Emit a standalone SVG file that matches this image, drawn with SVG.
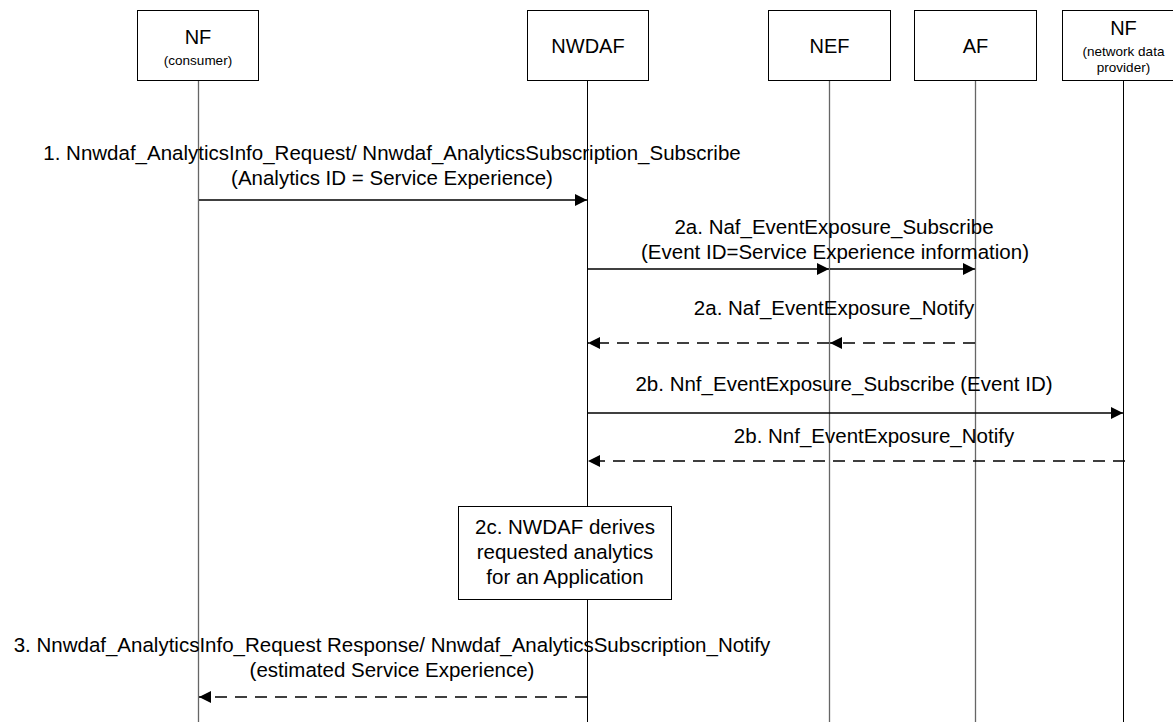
<svg xmlns="http://www.w3.org/2000/svg" width="1173" height="722" viewBox="0 0 1173 722">
<style>
  .box { fill: #fff; stroke: #000; stroke-width: 1; }
  .life { stroke: #000; stroke-width: 1; fill: none; }
  .lifeg { stroke: #666; stroke-width: 1.3; fill: none; }
  .msg { stroke: #000; stroke-width: 1.4; fill: none; }
  .dash { stroke: #000; stroke-width: 1.4; fill: none; stroke-dasharray: 12 8; }
  text { font-family: "Liberation Sans", Arial, sans-serif; fill: #000; }
  .lbl { font-size: 20.5px; text-anchor: middle; }
  .nd { font-size: 20px; text-anchor: middle; }
  .sm { font-size: 13.5px; text-anchor: middle; }
</style>
<defs>
  <marker id="ah" viewBox="0 0 12 12" refX="12" refY="6" markerWidth="12" markerHeight="12" markerUnits="userSpaceOnUse" orient="auto">
    <path d="M0,0 L12,6 L0,12 z" fill="#000"/>
  </marker>
</defs>
<rect width="1173" height="722" fill="#fff"/>

<g id="lifelines">
  <line class="lifeg" x1="198.5" y1="80" x2="198.5" y2="722"/>
  <line class="life" x1="587.5" y1="80" x2="587.5" y2="722"/>
  <line class="lifeg" x1="829.5" y1="80" x2="829.5" y2="722"/>
  <line class="lifeg" x1="975.5" y1="80" x2="975.5" y2="722"/>
  <line class="life" x1="1123.5" y1="80" x2="1123.5" y2="722"/>
</g>

<g id="node-nf-consumer">
  <rect class="box" x="137.5" y="10.5" width="121" height="70"/>
  <text class="nd" x="198" y="44">NF</text>
  <text class="sm" x="198" y="65">(consumer)</text>
</g>
<g id="node-nwdaf">
  <rect class="box" x="527.5" y="10.5" width="121" height="70"/>
  <text class="nd" x="588" y="53">NWDAF</text>
</g>
<g id="node-nef">
  <rect class="box" x="768.5" y="10.5" width="122" height="70"/>
  <text class="nd" x="829.5" y="53">NEF</text>
</g>
<g id="node-af">
  <rect class="box" x="914.5" y="10.5" width="122" height="70"/>
  <text class="nd" x="975.5" y="53">AF</text>
</g>
<g id="node-nf-provider">
  <rect class="box" x="1062.5" y="10.5" width="122" height="70"/>
  <text class="nd" x="1123.5" y="35">NF</text>
  <text class="sm" x="1123.5" y="56">(network data</text>
  <text class="sm" x="1123.5" y="72">provider)</text>
</g>

<g id="connectors">
  <line class="msg" x1="199" y1="200" x2="587" y2="200" marker-end="url(#ah)"/>
  <line class="msg" x1="588" y1="269" x2="829" y2="269" marker-end="url(#ah)"/>
  <line class="msg" x1="830" y1="269" x2="975" y2="269" marker-end="url(#ah)"/>
  <line class="dash" x1="975" y1="343" x2="830" y2="343" marker-end="url(#ah)"/>
  <line class="dash" x1="829" y1="343" x2="588" y2="343" marker-end="url(#ah)"/>
  <line class="msg" x1="588" y1="413" x2="1123" y2="413" marker-end="url(#ah)"/>
  <line class="dash" x1="1125" y1="461" x2="588" y2="461" marker-end="url(#ah)"/>
  <line class="dash" x1="587" y1="697" x2="199" y2="697" marker-end="url(#ah)"/>
</g>

<g id="labels">
  <text class="lbl" x="392" y="160">1. Nnwdaf_AnalyticsInfo_Request/ Nnwdaf_AnalyticsSubscription_Subscribe</text>
  <text class="lbl" x="392" y="185">(Analytics ID = Service Experience)</text>
  <text class="lbl" x="834" y="234">2a. Naf_EventExposure_Subscribe</text>
  <text class="lbl" x="835" y="259">(Event ID=Service Experience information)</text>
  <text class="lbl" x="834" y="315">2a. Naf_EventExposure_Notify</text>
  <text class="lbl" x="844" y="391">2b. Nnf_EventExposure_Subscribe (Event ID)</text>
  <text class="lbl" x="874" y="443">2b. Nnf_EventExposure_Notify</text>
  <text class="lbl" x="392" y="652">3. Nnwdaf_AnalyticsInfo_Request Response/ Nnwdaf_AnalyticsSubscription_Notify</text>
  <text class="lbl" x="392" y="677">(estimated Service Experience)</text>
</g>

<g id="node-2c">
  <rect class="box" x="458.5" y="506.5" width="213" height="93"/>
  <text class="lbl" x="565" y="534">2c. NWDAF derives</text>
  <text class="lbl" x="565" y="559">requested analytics</text>
  <text class="lbl" x="565" y="584">for an Application</text>
</g>
</svg>
